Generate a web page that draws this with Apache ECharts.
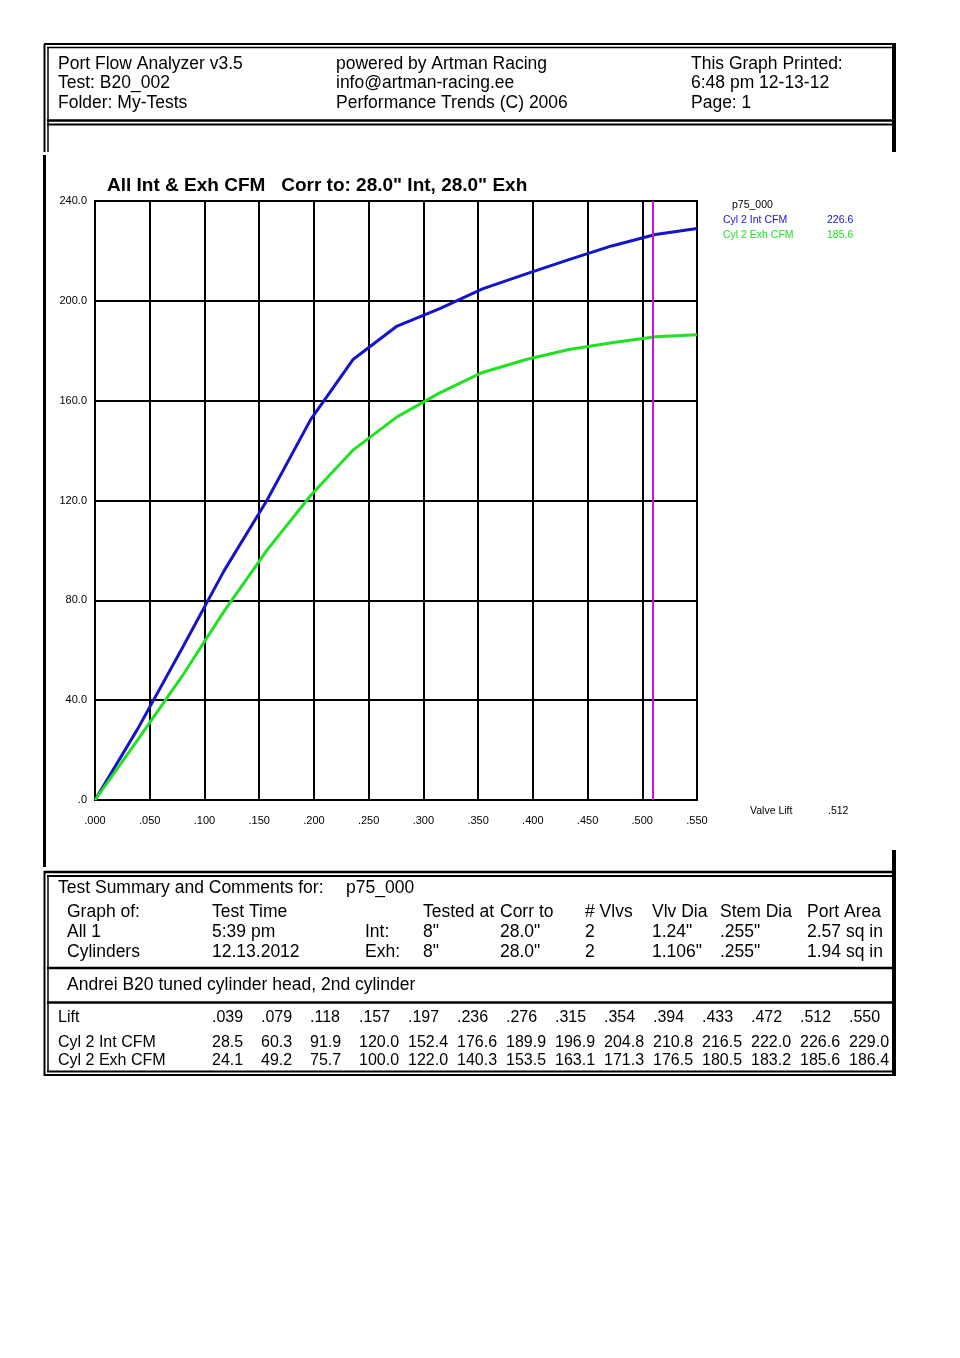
<!DOCTYPE html>
<html>
<head>
<meta charset="utf-8">
<script src="https://cdn.jsdelivr.net/npm/echarts@6/dist/echarts.min.js"></script>
<style>
  html, body { margin: 0; padding: 0; background: #fff; }
  #main { width: 960px; height: 1358px; }
</style>
</head>
<body>
<div id="main"></div>
<script>
// flow test data (lift in inches, cfm corrected to 28")
var lift   = [0, 0.039, 0.079, 0.118, 0.157, 0.197, 0.236, 0.276, 0.315, 0.354, 0.394, 0.433, 0.472, 0.512, 0.550];
var intCfm = [0, 28.5, 60.3, 91.9, 120.0, 152.4, 176.6, 189.9, 196.9, 204.8, 210.8, 216.5, 222.0, 226.6, 229.0];
var exhCfm = [0, 24.1, 49.2, 75.7, 100.0, 122.0, 140.3, 153.5, 163.1, 171.3, 176.5, 180.5, 183.2, 185.6, 186.4];
var valveLift = 0.512;

var headLeft  = ['Port Flow Analyzer v3.5', 'Test: B20_002', 'Folder: My-Tests'];
var headMid   = ['powered by Artman Racing', 'info@artman-racing.ee', 'Performance Trends (C) 2006'];
var headRight = ['This Graph Printed:', '6:48 pm 12-13-12', 'Page: 1'];

var sumTitle = ['Test Summary and Comments for:', 'p75_000'];
var sumHead = ['Graph of:', 'Test Time', '', 'Tested at', 'Corr to', '# Vlvs', 'Vlv Dia', 'Stem Dia', 'Port Area'];
var sumInt  = ['All 1', '5:39 pm', 'Int:', '8"', '28.0"', '2', '1.24"', '.255"', '2.57 sq in'];
var sumExh  = ['Cylinders', '12.13.2012', 'Exh:', '8"', '28.0"', '2', '1.106"', '.255"', '1.94 sq in'];
var comment = 'Andrei B20 tuned cylinder head, 2nd cylinder';

var FONT = '"Liberation Sans", Arial, sans-serif';
var BLUE = '#1414c8';
var GREEN = '#22e022';

function liftFmt(v) { return v.toFixed(3).replace(/^0/, ''); }

var myChart = echarts.init(document.getElementById('main'));

// ---- frame lines and texts
var g = [];
function ln(x1, y1, x2, y2, w) {
  g.push({ type: 'line', silent: true, shape: { x1: x1, y1: y1, x2: x2, y2: y2 },
    style: { stroke: '#000', lineWidth: w || 2 } });
}
function tx(x, y, s, size, color, weight, align) {
  g.push({ type: 'text', silent: true, x: x, y: y,
    style: { text: s, fill: color || '#000', fontSize: size, fontFamily: FONT,
      fontWeight: weight || 'normal', align: align || 'left', textAlign: align || 'left',
      verticalAlign: 'middle', textVerticalAlign: 'middle' } });
}

// header box
ln(44, 44, 896, 44, 2); ln(47, 47.5, 893, 47.5, 1.5);
ln(44.5, 44, 44.5, 152, 2); ln(48, 47, 48, 152, 1.5);
ln(894, 43, 894, 152, 4);
ln(47, 120.5, 893, 120.5, 2.5); ln(47, 124.5, 893, 124.5, 2);
ln(44.5, 155, 44.5, 867, 3);

// bottom box
ln(44, 872, 896, 872, 2.5); ln(47, 876, 893, 876, 2);
ln(44.5, 871, 44.5, 1076, 2); ln(48, 875, 48, 1072, 1.5);
ln(894, 850, 894, 1076, 4);
ln(47, 968, 893, 968, 2.5);
ln(47, 1002.5, 893, 1002.5, 2.5);
ln(47, 1071.5, 893, 1071.5, 2); ln(44, 1075, 896, 1075, 2);

headLeft.forEach(function (s, i) { tx(58, 64 + i * 19.5, s, 17.5); });
headMid.forEach(function (s, i) { tx(336, 64 + i * 19.5, s, 17.5); });
headRight.forEach(function (s, i) { tx(691, 64 + i * 19.5, s, 17.5); });

tx(107, 186, 'All Int & Exh CFM   Corr to: 28.0" Int, 28.0" Exh', 19, '#000', 'bold');

// legend block
var iv = lift.indexOf(valveLift);
tx(732, 205, 'p75_000', 10.5);
tx(723, 220, 'Cyl 2 Int CFM', 10.5, BLUE);
tx(827, 220, intCfm[iv].toFixed(1), 10.5, BLUE);
tx(723, 235, 'Cyl 2 Exh CFM', 10.5, GREEN);
tx(827, 235, exhCfm[iv].toFixed(1), 10.5, GREEN);
tx(750, 811, 'Valve Lift', 10.5);
tx(828, 811, liftFmt(valveLift), 10.5);

// summary
tx(58, 888, sumTitle[0], 17.5);
tx(346, 888, sumTitle[1], 17.5);
var colX = [67, 212, 365, 423, 500, 585, 652, 720, 807];
[sumHead, sumInt, sumExh].forEach(function (row, r) {
  row.forEach(function (s, c) { if (s) tx(colX[c], 912 + r * 20, s, 17.5); });
});
tx(67, 985, comment, 17.5);

// lift / cfm table (skip zero point)
tx(58, 1018, 'Lift', 16);
tx(58, 1043, 'Cyl 2 Int CFM', 16);
tx(58, 1061, 'Cyl 2 Exh CFM', 16);
for (var i = 1; i < lift.length; i++) {
  var cx = 212 + (i - 1) * 49;
  tx(cx, 1018, liftFmt(lift[i]), 16);
  tx(cx, 1043, intCfm[i].toFixed(1), 16);
  tx(cx, 1061, exhCfm[i].toFixed(1), 16);
}

var option = {
  animation: false,
  backgroundColor: '#fff',
  textStyle: { fontFamily: FONT },
  grid: { left: 95, top: 201, width: 602, height: 599, show: true, borderColor: '#000', borderWidth: 2, backgroundColor: 'transparent' },
  xAxis: {
    type: 'value', min: 0, max: 0.55, interval: 0.05,
    axisLine: { show: true, lineStyle: { color: '#000', width: 2 } },
    axisTick: { show: false },
    axisLabel: { color: '#000', fontSize: 11, margin: 15, formatter: liftFmt },
    splitLine: { show: true, lineStyle: { color: '#000', width: 2 } }
  },
  yAxis: {
    type: 'value', min: 0, max: 240, interval: 40,
    axisLine: { show: true, lineStyle: { color: '#000', width: 2 } },
    axisTick: { show: false },
    axisLabel: { color: '#000', fontSize: 11, margin: 8,
      formatter: function (v) { return v === 0 ? '.0' : v.toFixed(1); } },
    splitLine: { show: true, lineStyle: { color: '#000', width: 2 } }
  },
  series: [
    {
      name: 'Cyl 2 Int CFM', type: 'line', showSymbol: false, silent: true,
      data: lift.map(function (x, i) { return [x, intCfm[i]]; }),
      lineStyle: { color: BLUE, width: 3 }, z: 3
    },
    {
      name: 'Cyl 2 Exh CFM', type: 'line', showSymbol: false, silent: true,
      data: lift.map(function (x, i) { return [x, exhCfm[i]]; }),
      lineStyle: { color: GREEN, width: 3 }, z: 3,
      markLine: {
        silent: true, symbol: ['none', 'none'], label: { show: false },
        lineStyle: { color: '#d010d0', width: 2, type: 'solid' },
        data: [{ xAxis: valveLift }]
      }
    }
  ],
  graphic: g
};

myChart.setOption(option);
</script>
</body>
</html>
